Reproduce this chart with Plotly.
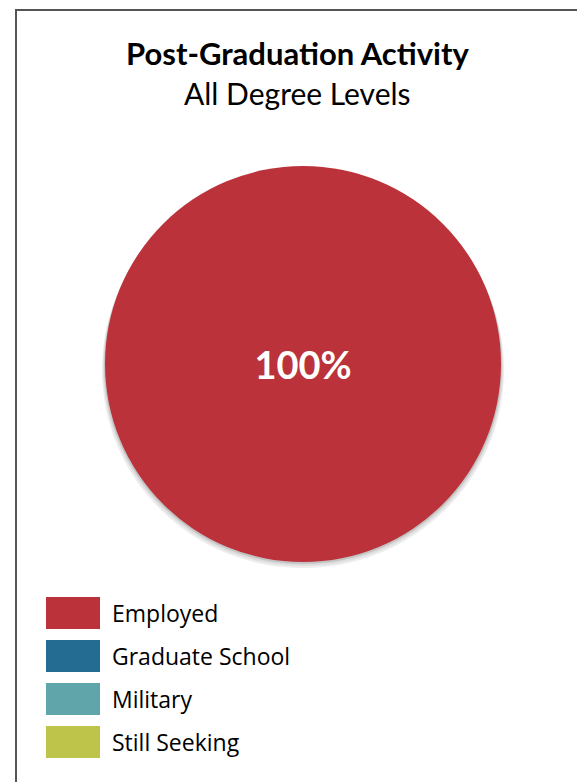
import plotly.graph_objects as go

# ---- data ----
categories = ["Employed", "Graduate School", "Military", "Still Seeking"]
values = [100, 0, 0, 0]
colors = ["#BB323A", "#246C91", "#5FA5AA", "#BEC44A"]
title_main = "Post-Graduation Activity"
title_sub = "All Degree Levels"

# page body has an 8px default margin; compensate so the figure fills the window
OFF = 8
W, H = 585 - OFF, 782 - OFF


def px(x):
    return (x - OFF) / W


def py(y):
    return 1 - (y - OFF) / H


labels_text = [f"{v / sum(values) * 100:.0f}%" if v > 0 else "" for v in values]

fig = go.Figure()
fig.add_trace(go.Pie(
    labels=categories,
    values=values,
    marker=dict(colors=colors, line=dict(width=0)),
    text=labels_text,
    textinfo="text",
    textposition="inside",
    insidetextorientation="horizontal",
    textfont=dict(family="Lato", size=38, color="white", weight="bold"),
    sort=False,
    direction="clockwise",
    showlegend=False,
    hoverinfo="label+percent",
    domain=dict(x=[px(105), px(501)], y=[py(562), py(166)]),
))

shapes = []
# frame shadow
shapes.append(dict(type="rect", xref="paper", yref="paper",
                   x0=px(19), x1=px(583), y0=py(800), y1=py(13),
                   line=dict(width=0), fillcolor="#cfcfcf", layer="below"))
# frame
shapes.append(dict(type="rect", xref="paper", yref="paper",
                   x0=px(16), x1=px(580), y0=py(800), y1=py(10),
                   line=dict(width=2, color="#555555"), fillcolor="white", layer="below"))
# pie shadow (soft)
for off, col in [(6, "#ededed"), (4, "#dedede"), (2, "#c4c4c4")]:
    shapes.append(dict(type="circle", xref="paper", yref="paper",
                       x0=px(105 - off / 2), x1=px(501 + off / 2),
                       y0=py(562 + off), y1=py(166 + off),
                       line=dict(width=0), fillcolor=col, layer="below"))

annotations = [
    dict(text=f"<b>{title_main}</b>", x=px(297), y=py(53), xref="paper", yref="paper",
         showarrow=False, font=dict(family="Lato", size=31, color="black"),
         xanchor="center", yanchor="middle"),
    dict(text=title_sub, x=px(297), y=py(93), xref="paper", yref="paper",
         showarrow=False, font=dict(family="Lato", size=30, color="black"),
         xanchor="center", yanchor="middle"),
]

# legend built from categories/colors
row_top = 597
row_step = 43
for i, (cat, col) in enumerate(zip(categories, colors)):
    t = row_top + i * row_step
    shapes.append(dict(type="rect", xref="paper", yref="paper",
                       x0=px(46), x1=px(100), y0=py(t + 32), y1=py(t),
                       line=dict(width=0), fillcolor=col))
    annotations.append(dict(text=cat, x=px(110), y=py(t + 15.5), xref="paper", yref="paper",
                            showarrow=False, font=dict(family="Open Sans", size=23, color="black"),
                            xanchor="left", yanchor="middle"))

fig.update_layout(
    width=W, height=H,
    margin=dict(l=0, r=0, t=0, b=0),
    paper_bgcolor="white",
    plot_bgcolor="white",
    shapes=shapes,
    annotations=annotations,
)

fig.write_html("out.html")
